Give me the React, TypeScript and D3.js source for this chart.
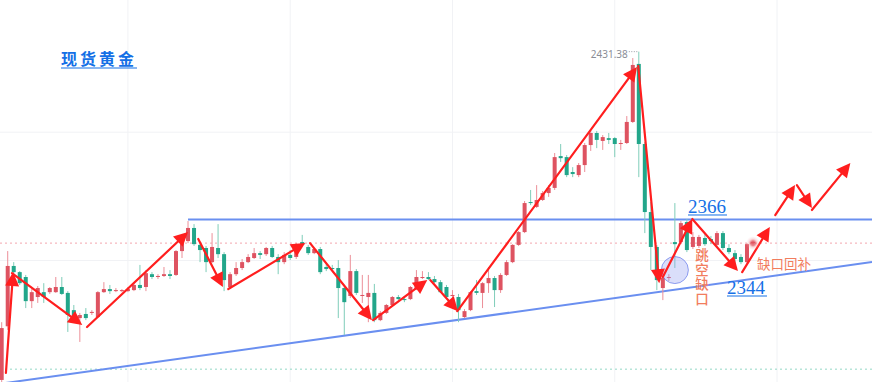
import React, { useEffect } from 'react';
import * as d3 from 'd3';

const W = 872;
const H = 382;

// ---- candle data ----
const opens = [
  2303.5, 2324.4, 2347.9, 2345.5, 2343.6, 2334.2, 2335.8, 2337.7, 2337.7, 2337.7,
  2339.7, 2337.4, 2330.7, 2327.6, 2329.2, 2329.6, 2328.0, 2337.7, 2338.9, 2338.1,
  2338.1, 2338.1, 2338.5, 2340.5, 2339.7, 2344.7, 2343.6, 2344.0, 2344.7, 2344.4,
  2353.7, 2357.6, 2362.7, 2356.1, 2354.9, 2349.4, 2354.9, 2352.5, 2339.7, 2344.7,
  2347.1, 2349.4, 2351.0, 2352.9, 2352.5, 2354.9, 2351.4, 2349.4, 2352.2, 2351.4,
  2357.2, 2355.3, 2352.9, 2354.5, 2347.5, 2347.1, 2347.1, 2339.3, 2336.2, 2345.9,
  2336.2, 2335.8, 2337.4, 2326.8, 2329.6, 2332.7, 2335.8, 2335.0, 2335.0, 2338.9,
  2343.2, 2343.6, 2342.8, 2341.6, 2339.7, 2336.2, 2335.8, 2328.0, 2330.7, 2338.1,
  2337.4, 2341.2, 2343.2, 2338.5, 2344.4, 2349.4, 2356.1, 2361.1, 2372.8, 2370.9,
  2373.6, 2376.3, 2378.3, 2390.7, 2390.3, 2384.5, 2383.3, 2387.2, 2395.0, 2399.7,
  2396.6, 2397.7, 2397.7, 2395.4, 2395.8, 2404.0, 2426.6, 2395.4, 2368.9, 2355.3,
  2339.3, 2343.2, 2357.2, 2357.2, 2365.0, 2355.3, 2355.7, 2358.8, 2358.4, 2356.1,
  2360.7, 2354.9, 2352.9, 2351.4, 2349.4, 2356.8,
];
const closes = [
  2323.7, 2347.9, 2345.5, 2341.2, 2334.2, 2337.7, 2339.3, 2335.8, 2339.3, 2339.7,
  2337.0, 2328.8, 2328.4, 2328.8, 2327.6, 2330.0, 2337.7, 2338.9, 2338.1, 2338.5,
  2338.5, 2338.9, 2340.5, 2339.3, 2345.1, 2343.6, 2344.0, 2344.7, 2344.0, 2353.7,
  2357.2, 2362.7, 2356.4, 2354.1, 2349.4, 2355.3, 2352.5, 2342.4, 2344.7, 2347.1,
  2349.4, 2351.4, 2352.9, 2352.2, 2354.9, 2351.4, 2349.4, 2352.2, 2351.0, 2356.1,
  2356.1, 2352.9, 2354.5, 2345.5, 2346.7, 2346.7, 2339.3, 2333.8, 2345.9, 2337.4,
  2336.6, 2337.4, 2326.8, 2329.6, 2332.7, 2335.8, 2335.0, 2334.6, 2339.7, 2343.6,
  2343.6, 2342.8, 2341.6, 2337.7, 2335.8, 2336.6, 2330.7, 2330.3, 2337.7, 2337.4,
  2341.2, 2343.2, 2338.5, 2344.4, 2349.4, 2356.1, 2361.1, 2372.4, 2372.4, 2373.6,
  2376.3, 2378.3, 2390.3, 2389.9, 2383.3, 2383.7, 2387.2, 2395.0, 2399.7, 2397.0,
  2398.1, 2397.0, 2395.4, 2395.8, 2404.0, 2426.2, 2395.4, 2368.9, 2355.3, 2342.4,
  2343.2, 2343.6, 2356.4, 2364.6, 2354.1, 2359.2, 2359.2, 2356.4, 2357.6, 2360.7,
  2354.9, 2353.3, 2350.6, 2349.4, 2356.4, 2357.2,
];
const highs = [
  2326.0, 2353.7, 2349.4, 2345.9, 2344.4, 2338.9, 2340.1, 2341.2, 2339.7, 2343.6,
  2343.6, 2338.1, 2332.7, 2329.6, 2331.5, 2330.7, 2338.1, 2341.6, 2340.5, 2339.3,
  2338.9, 2339.7, 2341.2, 2348.3, 2346.3, 2345.5, 2344.7, 2347.5, 2346.3, 2354.1,
  2358.0, 2365.4, 2364.2, 2356.8, 2355.7, 2360.7, 2364.2, 2353.3, 2345.5, 2349.4,
  2350.6, 2352.5, 2354.9, 2353.7, 2355.3, 2355.7, 2352.5, 2353.3, 2354.1, 2356.8,
  2360.0, 2356.1, 2354.9, 2355.3, 2348.6, 2348.3, 2350.2, 2339.7, 2352.2, 2346.7,
  2344.4, 2344.4, 2340.9, 2330.3, 2333.1, 2336.2, 2336.6, 2336.2, 2340.1, 2346.3,
  2345.9, 2345.5, 2344.0, 2342.4, 2340.5, 2338.5, 2337.0, 2331.1, 2338.1, 2342.4,
  2341.6, 2347.5, 2344.0, 2345.1, 2350.2, 2356.4, 2361.5, 2373.2, 2377.5, 2379.4,
  2377.1, 2379.4, 2391.9, 2395.4, 2391.1, 2386.4, 2388.0, 2395.8, 2400.5, 2400.5,
  2398.9, 2399.7, 2398.1, 2397.0, 2406.3, 2428.9, 2431.38, 2396.2, 2372.8, 2356.1,
  2344.0, 2344.7, 2372.4, 2365.4, 2366.2, 2361.1, 2360.0, 2360.3, 2359.6, 2361.5,
  2361.5, 2356.4, 2354.1, 2352.5, 2356.8, 2357.6,
];
const lows = [
  2302.0, 2323.0, 2344.7, 2340.5, 2331.5, 2331.5, 2333.5, 2333.5, 2337.0, 2337.4,
  2336.6, 2322.2, 2327.6, 2318.3, 2326.8, 2328.8, 2327.6, 2337.4, 2337.0, 2337.7,
  2337.7, 2337.7, 2338.1, 2338.5, 2338.1, 2342.8, 2342.8, 2343.6, 2342.8, 2344.0,
  2351.0, 2356.8, 2355.7, 2349.4, 2345.5, 2349.0, 2351.0, 2338.1, 2338.9, 2344.0,
  2346.3, 2349.0, 2350.6, 2350.6, 2351.8, 2351.0, 2344.7, 2348.6, 2350.2, 2350.6,
  2355.7, 2352.2, 2352.5, 2344.7, 2345.9, 2345.9, 2327.6, 2321.0, 2335.4, 2336.6,
  2333.5, 2326.0, 2326.0, 2326.4, 2329.2, 2332.3, 2334.6, 2333.8, 2334.6, 2338.5,
  2342.8, 2342.4, 2341.2, 2337.4, 2335.4, 2335.4, 2326.0, 2327.6, 2330.3, 2336.6,
  2331.5, 2337.4, 2331.9, 2337.4, 2344.0, 2349.0, 2355.7, 2360.7, 2371.6, 2370.5,
  2373.2, 2374.8, 2377.5, 2388.4, 2382.5, 2382.5, 2382.5, 2384.5, 2392.7, 2393.8,
  2393.1, 2395.4, 2390.3, 2393.1, 2395.4, 2403.6, 2382.5, 2360.7, 2346.3, 2338.5,
  2334.6, 2342.0, 2347.1, 2356.4, 2353.3, 2354.5, 2354.9, 2355.7, 2356.4, 2355.3,
  2354.1, 2352.5, 2348.3, 2348.6, 2349.0, 2356.4,
];

// ---- hand-drawn arrows (bar index, price) ----
const arrowFromIdx = [0.7, 1.7, 14.2, 32.7, 37.7, 51.3, 61.8, 71.3, 75.8, 105.9, 110.0, 114.9, 123.2, 128.7, 132.3, 134.8];
const arrowFromPrice = [2306.2, 2345.1, 2324.1, 2358.4, 2338.9, 2356.8, 2326.8, 2342.4, 2330.3, 2425.8, 2343.6, 2366.2, 2345.5, 2367.7, 2379.4, 2369.7];
const arrowToIdx = [1.9, 13.4, 31.0, 36.8, 50.5, 61.6, 70.8, 75.9, 105.7, 109.4, 114.9, 122.5, 127.8, 132.0, 134.8, 141.2];
const arrowToPrice = [2345.5, 2324.9, 2361.1, 2339.7, 2356.8, 2326.8, 2342.4, 2330.3, 2425.4, 2341.2, 2366.2, 2345.9, 2363.1, 2379.4, 2370.5, 2388.0];

// ---- levels & labels ----
const titleText = '现货黄金';
const resistanceLevel = 2366;
const resistanceStartIdx = 31;
const trendIdx = [-0.3, 144.8];
const trendPrice = [2302.0, 2349.4];
const lastPrice = 2356.8;
const lowerDotted = 2307.7;
const peakIdx = 106;
const peakLabel = '2431.38';
const gridPrices = [2400, 2350];
const gridIdx = [21, 48, 75, 102, 129];
const labelHigh = '2366';
const labelLow = '2344';
const gapText = '跳空缺口';
const fillText = '缺口回补';
const gapCircleIdx = 112;
const gapCirclePrice = 2346.3;

const UP = '#de5361';
const DOWN = '#22a68a';
const UP_WICK = '#ec8f98';
const DOWN_WICK = '#7fcdb9';
const ARROW = '#ff1e1e';
const BLUE = '#6a8ff0';
const LABEL_BLUE = '#1570e6';
const ORANGE = '#f27d5e';

export default function App() {
  useEffect(() => {
    document.body.style.margin = '0';
  }, []);

  const x = d3.scaleLinear().domain([0, 125]).range([1.7, 753]);
  const y = d3.scaleLinear().domain([2302.7, 2451.5]).range([H, 0]);

  const bodyW = 4;

  const arrows = arrowFromIdx.map((_, i) => {
    const x1 = x(arrowFromIdx[i]);
    const y1 = y(arrowFromPrice[i]);
    const x2 = x(arrowToIdx[i]);
    const y2 = y(arrowToPrice[i]);
    const dx = x2 - x1;
    const dy = y2 - y1;
    const len = Math.hypot(dx, dy);
    const ux = dx / len;
    const uy = dy / len;
    const headL = 14;
    const headW = 7;
    const bx = x2 - ux * headL;
    const by = y2 - uy * headL;
    const px = -uy;
    const py = ux;
    const tri = [
      [x2, y2],
      [bx + px * headW, by + py * headW],
      [bx - px * headW, by - py * headW],
    ];
    return {
      line: [x1, y1, x2 - ux * headL * 0.7, y2 - uy * headL * 0.7],
      tri: tri.map((p) => p.join(',')).join(' '),
    };
  });

  const peakX = x(peakIdx);
  const peakY = y(highs[peakIdx]);
  const lastX = x(opens.length - 1);
  const lastY = y(lastPrice);

  return (
    <svg
      width={W}
      height={H}
      style={{ position: 'fixed', left: 0, top: 0, background: '#fff' }}
      fontFamily="'Noto Sans', sans-serif"
    >
      <defs>
        <radialGradient id="glow">
          <stop offset="0%" stopColor="#e0525e" stopOpacity="0.9" />
          <stop offset="35%" stopColor="#e0525e" stopOpacity="0.7" />
          <stop offset="60%" stopColor="#f29aa2" stopOpacity="0.35" />
          <stop offset="100%" stopColor="#f7c4c8" stopOpacity="0" />
        </radialGradient>
      </defs>
      <rect x={0} y={0} width={W} height={H} fill="#ffffff" />

      {/* grid */}
      {gridIdx.map((g) => (
        <line key={'gx' + g} x1={x(g)} x2={x(g)} y1={0} y2={H} stroke="#f1f2f5" strokeWidth={1} />
      ))}
      {gridPrices.map((g) => (
        <line key={'gy' + g} x1={0} x2={W} y1={y(g)} y2={y(g)} stroke="#f1f2f5" strokeWidth={1} />
      ))}

      {/* price lines */}
      <line x1={0} x2={W} y1={lastY} y2={lastY} stroke="#f3a6ad" strokeWidth={1} strokeDasharray="2,3" />
      <line x1={0} x2={W} y1={y(lowerDotted)} y2={y(lowerDotted)} stroke="#93d8c6" strokeWidth={1} strokeDasharray="2,3" />

      {/* blue lines */}
      <line
        x1={x(resistanceStartIdx)}
        x2={W}
        y1={y(resistanceLevel)}
        y2={y(resistanceLevel)}
        stroke={BLUE}
        strokeWidth={2}
      />
      <line
        x1={x(trendIdx[0])}
        x2={x(trendIdx[1])}
        y1={y(trendPrice[0])}
        y2={y(trendPrice[1])}
        stroke={BLUE}
        strokeWidth={2}
      />

      {/* candles */}
      {opens.map((o, i) => {
        const c = closes[i];
        const up = c >= o;
        const cx = x(i);
        const top = y(Math.max(o, c));
        const bot = y(Math.min(o, c));
        return (
          <g key={i}>
            <line
              x1={cx}
              x2={cx}
              y1={y(highs[i])}
              y2={y(lows[i])}
              stroke={up ? UP_WICK : DOWN_WICK}
              strokeWidth={1}
            />
            <rect
              x={cx - bodyW / 2}
              y={top}
              width={bodyW}
              height={Math.max(1, bot - top)}
              fill={up ? UP : DOWN}
            />
          </g>
        );
      })}

      {/* peak label */}
      <text x={peakX - 11} y={peakY + 6} fontSize={10} fill="#8a8d96" textAnchor="end">
        {peakLabel}
      </text>
      <line
        x1={peakX - 10}
        x2={peakX - 1}
        y1={peakY}
        y2={peakY}
        stroke="#9a9da6"
        strokeWidth={1}
        strokeDasharray="1,1.5"
      />

      {/* gap circle */}
      <circle
        cx={x(gapCircleIdx)}
        cy={y(gapCirclePrice)}
        r={13.5}
        fill="rgba(150,160,240,0.35)"
        stroke="rgba(110,130,235,0.75)"
        strokeWidth={1}
      />

      {/* arrows */}
      {arrows.map((a, i) => (
        <g key={'a' + i}>
          <line
            x1={a.line[0]}
            y1={a.line[1]}
            x2={a.line[2]}
            y2={a.line[3]}
            stroke={ARROW}
            strokeWidth={2.2}
            strokeLinecap="round"
          />
          <polygon points={a.tri} fill={ARROW} />
        </g>
      ))}

      {/* last price glow */}
      <circle cx={lastX} cy={lastY} r={7} fill="url(#glow)" />

      {/* title */}
      <text
        x={61}
        y={65}
        fontSize={16}
        fontWeight={700}
        letterSpacing={3}
        fill={LABEL_BLUE}
        fontFamily="'Noto Sans CJK SC', sans-serif"
      >
        {titleText}
      </text>
      <line x1={61} x2={137} y1={68} y2={68} stroke={LABEL_BLUE} strokeWidth={1.2} />

      {/* level labels */}
      <text x={688} y={y(resistanceLevel) - 6} fontSize={19} fill={LABEL_BLUE} fontFamily="'Liberation Serif', serif">
        {labelHigh}
      </text>
      <line x1={688} x2={727} y1={y(resistanceLevel) - 4.5} y2={y(resistanceLevel) - 4.5} stroke={LABEL_BLUE} strokeWidth={1} />
      <text x={727} y={294} fontSize={19} fill={LABEL_BLUE} fontFamily="'Liberation Serif', serif">
        {labelLow}
      </text>
      <line x1={727} x2={767} y1={296} y2={296} stroke={LABEL_BLUE} strokeWidth={1} />

      {/* gap annotation (vertical writing) */}
      <text
        x={702}
        y={248}
        fontSize={13.5}
        fontWeight={500}
        letterSpacing={1.2}
        fill={ORANGE}
        fontFamily="'Noto Sans CJK SC', sans-serif"
        style={{ writingMode: 'vertical-rl', textOrientation: 'upright' } as React.CSSProperties}
      >
        {gapText}
      </text>
      <text x={757} y={269} fontSize={13.5} fill={ORANGE} fontFamily="'Noto Sans CJK SC', sans-serif">
        {fillText}
      </text>
    </svg>
  );
}
